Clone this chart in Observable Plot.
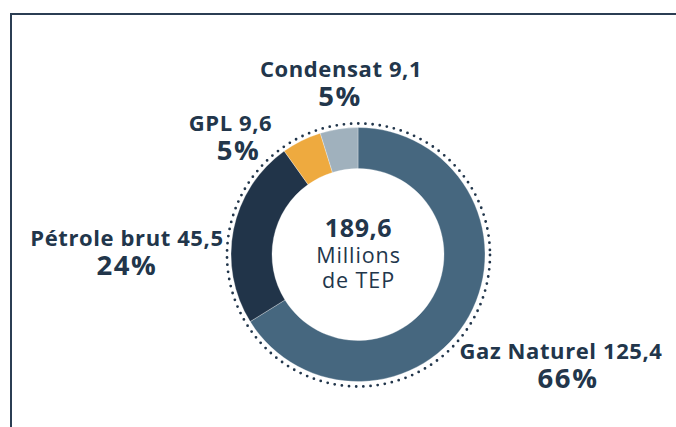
<!DOCTYPE html>
<html><head><meta charset="utf-8">
<script src="https://cdn.jsdelivr.net/npm/d3@7"></script>
<script src="https://cdn.jsdelivr.net/npm/@observablehq/plot@0.6"></script>
<style>
html,body{margin:0;padding:0;background:#fff;}
#wrap{position:relative;width:676px;height:427px;overflow:hidden;}
#frame{position:absolute;left:10px;top:13px;right:-10px;bottom:-10px;border-top:2px solid #2b3e53;border-left:2px solid #2b3e53;}
#chart{position:absolute;left:0;top:0;}
</style></head><body><div id="wrap"><div id="frame"></div><div id="chart"></div></div>
<script>
// ---- data ----
const categories = ["Gaz Naturel", "Pétrole brut", "GPL", "Condensat"];
const values = [125.4, 45.5, 9.6, 9.1];
const colors = ["#46677f", "#213449", "#eeaa3f", "#a0b1bd"];
const unitText = "Millions\nde TEP";

// ---- layout (pixels) ----
const W = 676, H = 427, CX = 358, CY = 254.5;
const R_IN = 86, R_OUT = 127, R_DOTS = 131.5;
const labelNudge = {
  "Gaz Naturel": [91.5, 42, 7],
  "Pétrole brut": [-107, 16, 0],
  "GPL": [-71.5, -10, 8],
  "Condensat": [1.6, -52.5, -1]
};
const INK = "#22364b";
const FONT = "'Open Sans', 'DejaVu Sans', sans-serif";
const SIZE = {name: 22, pct: 27.5, total: 25, unit: 21.5};
const SPACING = {22: "0.6px", 27.5: "1.6px", 25: "0.6px", 21.5: "0.9px"};

const fmt = v => String(v).replace(".", ",");
const total = Math.round(d3.sum(values) * 10) / 10;
const pie = d3.pie().sort(null).value(d => d.value);
const rows = categories.map((category, i) => ({category, value: values[i]}));
const arcs = pie(rows);
rows.forEach((r, i) => {
  r.start = arcs[i].startAngle;
  r.end = arcs[i].endAngle;
  r.mid = (arcs[i].startAngle + arcs[i].endAngle) / 2;
  r.pct = Math.round(100 * r.value / d3.sum(values)) + "%";
});
const px = (a, r) => Math.sin(a) * r;
const py = (a, r) => -Math.cos(a) * r;

class Donut extends Plot.Mark {
  constructor(data, {fill, inner, outer, ...options} = {}) {
    super(data, {fill: {value: fill, scale: "color"}}, options, {ariaLabel: "donut"});
    this.rows = data; this.inner = inner; this.outer = outer;
  }
  render(index, scales, channels) {
    const {x, y} = scales;
    const F = channels.fill;
    const k = Math.abs(x(1) - x(0));
    const arc = d3.arc().innerRadius(this.inner * k).outerRadius(this.outer * k);
    const g = d3.create("svg:g").attr("transform", `translate(${x(0)},${y(0)})`);
    g.selectAll("path").data(index).join("path")
      .attr("d", i => arc({startAngle: this.rows[i].start, endAngle: this.rows[i].end}))
      .attr("fill", i => F[i])
      .attr("stroke", "#ffffff").attr("stroke-width", 0.6).attr("stroke-opacity", 0.5);
    return g.node();
  }
}

const plot = Plot.plot({
  width: W, height: H,
  margin: 0,
  x: {domain: [-CX, W - CX], range: [0, W], axis: null},
  y: {domain: [-CY, H - CY], range: [0, H], axis: null},
  color: {domain: categories, range: colors},
  style: {background: "transparent", overflow: "visible"},
  marks: [
    new Donut(rows, {fill: "category", inner: R_IN, outer: R_OUT}),
    Plot.dot([0], {x: 0, y: 0, r: R_DOTS, fill: "none", stroke: INK, strokeWidth: 2.8,
      strokeDasharray: "0 7.2", strokeLinecap: "round"}),
    Plot.text(rows, {
      x: d => px(d.mid, R_OUT) + labelNudge[d.category][0],
      y: d => py(d.mid, R_OUT) + labelNudge[d.category][1],
      text: d => `${d.category} ${fmt(d.value)}`,
      lineAnchor: "bottom", textAnchor: "middle",
      fill: INK, fontSize: SIZE.name, fontWeight: 700, fontFamily: FONT
    }),
    Plot.text(rows, {
      x: d => px(d.mid, R_OUT) + labelNudge[d.category][0] + labelNudge[d.category][2],
      y: d => py(d.mid, R_OUT) + labelNudge[d.category][1],
      dy: 29,
      text: "pct",
      lineAnchor: "bottom", textAnchor: "middle",
      fill: INK, fontSize: SIZE.pct, fontWeight: 700, fontFamily: FONT
    }),
    Plot.text([fmt(total)], {
      x: 0, y: 0, dy: -18.5, text: d => d,
      lineAnchor: "bottom", textAnchor: "middle",
      fill: INK, fontSize: SIZE.total, fontWeight: 700, fontFamily: FONT
    }),
    Plot.text([unitText], {
      x: 0, y: 0, dy: 32.5, text: d => d, lineHeight: 25 / SIZE.unit,
      lineAnchor: "bottom", textAnchor: "middle",
      fill: INK, fontSize: SIZE.unit, fontWeight: 500, fontFamily: FONT
    })
  ]
});
d3.select(plot).selectAll("text").each(function () {
  let el = this, fs = null;
  while (el && el !== plot && fs == null) { fs = el.getAttribute("font-size"); el = el.parentNode; }
  const v = fs != null ? SPACING[parseFloat(fs)] : null;
  if (v) this.style.letterSpacing = v;
});
document.getElementById("chart").appendChild(plot);
</script>
</body></html>
